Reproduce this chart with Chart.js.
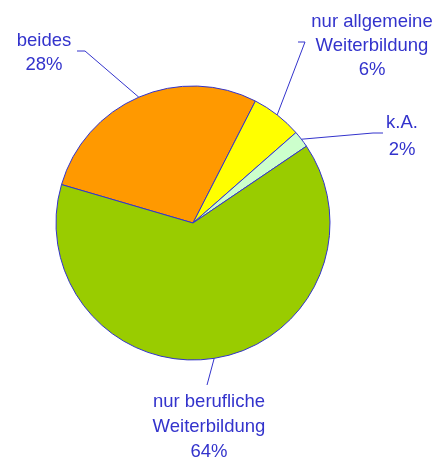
<!DOCTYPE html>
<html>
<head>
<meta charset="utf-8">
<script src="https://cdn.jsdelivr.net/npm/chart.js@4/dist/chart.umd.min.js"></script>
<style>
  html, body { margin: 0; padding: 0; background: #fff; }
  #pie { display: block; }
</style>
</head>
<body>
<canvas id="pie" width="436" height="458"></canvas>
<script>
const categories = ['beides', 'nur allgemeine Weiterbildung', 'k.A.', 'nur berufliche Weiterbildung'];
const shares = [28, 6, 2, 64];
const sliceColors = ['#ff9900', '#ffff00', '#ccffcc', '#99cc00'];

// where each label sits: text lines, centre x, baselines, elbow and line end
const labelLayout = [
    { lines: ['beides', '28%'], x: 44, y: [46, 70], elbow: [85, 51], end: [77, 51] },
    { lines: ['nur allgemeine', 'Weiterbildung', '6%'], x: 372, y: [26.7, 50.7, 74.5], elbow: [305, 42], end: [298, 42] },
    { lines: ['k.A.', '2%'], x: 402, y: [128.3, 155], elbow: [373, 133], end: [383, 133] },
    { lines: ['nur berufliche', 'Weiterbildung', '64%'], x: 209, y: [406.7, 432, 456.5], elbow: [207, 385], end: null }
];

const blue = '#3333cc';

const leaderLabels = {
    id: 'leaderLabels',
    afterDatasetsDraw(chart) {
        const ctx = chart.ctx;
        const arcs = chart.getDatasetMeta(0).data;
        ctx.save();
        ctx.strokeStyle = blue;
        ctx.lineWidth = 1;
        ctx.fillStyle = blue;
        ctx.font = '18.5px "Liberation Sans", Arial, sans-serif';
        ctx.textAlign = 'center';
        ctx.textBaseline = 'alphabetic';
        arcs.forEach((arc, i) => {
            const p = arc.getProps(['x', 'y', 'startAngle', 'endAngle', 'outerRadius'], true);
            const mid = (p.startAngle + p.endAngle) / 2;
            const ax = p.x + Math.cos(mid) * p.outerRadius;
            const ay = p.y + Math.sin(mid) * p.outerRadius;
            const lay = labelLayout[i];
            ctx.beginPath();
            ctx.moveTo(ax, ay);
            ctx.lineTo(lay.elbow[0], lay.elbow[1]);
            if (lay.end) ctx.lineTo(lay.end[0], lay.end[1]);
            ctx.stroke();
            lay.lines.forEach((t, k) => ctx.fillText(t, lay.x, lay.y[k]));
        });
        ctx.restore();
    }
};

new Chart(document.getElementById('pie').getContext('2d'), {
    type: 'pie',
    data: {
        labels: categories,
        datasets: [{
            data: shares,
            backgroundColor: sliceColors,
            borderColor: blue,
            borderWidth: 1,
            radius: 137
        }]
    },
    options: {
        responsive: false,
        animation: false,
        rotation: 286.3,
        layout: { padding: { left: 56, right: 106, top: 86, bottom: 98 } },
        plugins: {
            legend: { display: false },
            tooltip: { enabled: false }
        }
    },
    plugins: [leaderLabels]
});
</script>
</body>
</html>
